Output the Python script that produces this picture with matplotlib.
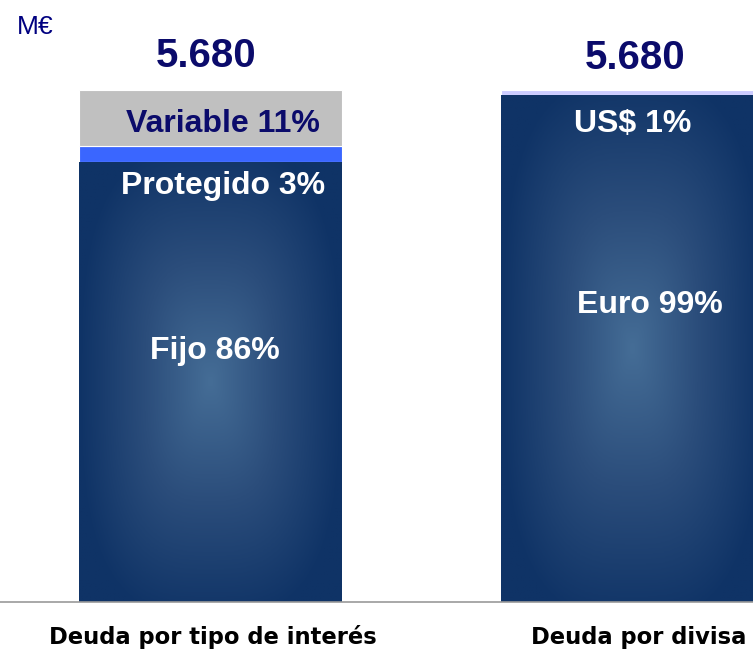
import matplotlib.pyplot as plt
import numpy as np
from matplotlib.colors import LinearSegmentedColormap

# data
categories = ['Deuda por tipo de interés', 'Deuda por divisa']
totals = ['5.680', '5.680']
tipo_labels = ['Fijo', 'Protegido', 'Variable']
tipo_values = [86, 3, 11]
divisa_labels = ['Euro', 'US$']
divisa_values = [99, 1]

navy = '#0b0b6b'
grad = LinearSegmentedColormap.from_list('g', ['#456d96', '#2b4d7b', '#0f3366'])


def fill_gradient(ax, patch, cmap):
    # "from centre" gradient clipped to the bar
    x0, y0 = patch.get_x(), patch.get_y()
    w, h = patch.get_width(), patch.get_height()
    xx, yy = np.meshgrid(np.linspace(-1, 1, 200), np.linspace(-1, 1, 300))
    d = (np.abs(xx) ** 3 + (np.abs(yy) * 0.92) ** 3) ** (1 / 3)
    im = ax.imshow(d, cmap=cmap, extent=(x0, x0 + w, y0, y0 + h),
                   aspect='auto', origin='lower', zorder=2, vmin=0, vmax=1)
    im.set_clip_path(patch)


fig = plt.figure(figsize=(7.53, 6.49), dpi=100)
ax = fig.add_axes([0, 0, 1, 1])
width = 0.623
x = [0, 1]

# left bar
bottom = 0
seg_colors = [None, '#3a66ff', '#c0c0c0']
for val, col in zip(tipo_values, seg_colors):
    b = ax.bar(x[0], val, width, bottom=bottom, color=col if col else '#0f3366',
               edgecolor='white', linewidth=0.8, zorder=1)[0]
    if col is None:
        fill_gradient(ax, b, grad)
    bottom += val

# right bar
bottom = 0
for val, col in zip(divisa_values, [None, '#ccccff']):
    b = ax.bar(x[1], val, width, bottom=bottom, color=col if col else '#0f3366',
               edgecolor='white', linewidth=0.8, zorder=1)[0]
    if col is None:
        fill_gradient(ax, b, grad)
    bottom += val

ax.axhline(0, color='#999999', linewidth=1.2, zorder=3)

fnt = 'Liberation Sans'
ax.text(x[0] + 0.03, 86 + 3 + 11 / 2 - 1.2, f'{tipo_labels[2]} {tipo_values[2]}%', ha='center', va='center',
        fontsize=23, fontweight='bold', color=navy, family=fnt, zorder=4)
ax.text(x[0] + 0.03, 86 - 4.7, f'{tipo_labels[1]} {tipo_values[1]}%', ha='center', va='center',
        fontsize=23, fontweight='bold', color='white', family=fnt, zorder=4)
ax.text(x[0] + 0.01, 49, f'{tipo_labels[0]} {tipo_values[0]}%', ha='center', va='center',
        fontsize=23, fontweight='bold', color='white', family=fnt, zorder=4)
ax.text(x[1] + 0.0, 93.3, f'{divisa_labels[1]} {divisa_values[1]}%', ha='center', va='center',
        fontsize=23, fontweight='bold', color='white', family=fnt, zorder=4)
ax.text(x[1] + 0.04, 58, f'{divisa_labels[0]} {divisa_values[0]}%', ha='center', va='center',
        fontsize=23, fontweight='bold', color='white', family=fnt, zorder=4)

ax.text(x[0] - 0.01, 106.6, totals[0], ha='center', va='center', fontsize=29,
        fontweight='bold', color=navy, family=fnt)
ax.text(x[1] + 0.005, 106.2, totals[1], ha='center', va='center', fontsize=29,
        fontweight='bold', color=navy, family=fnt)
ax.text(-0.459, 112.3, 'M€', ha='left', va='center', fontsize=19, color='#000080', family=fnt)

for xi, dx, cat in zip(x, [0.005, 0.015], categories):
    ax.text(xi + dx, -6.9, cat, ha='center', va='center', fontsize=16.3,
            fontweight='bold', color='black', family='DejaVu Sans')

ax.set_xlim(-0.4988, 1.2855)
ax.set_ylim(-9.18, 117.58)
ax.axis('off')

fig.savefig('out.png', dpi=100)
